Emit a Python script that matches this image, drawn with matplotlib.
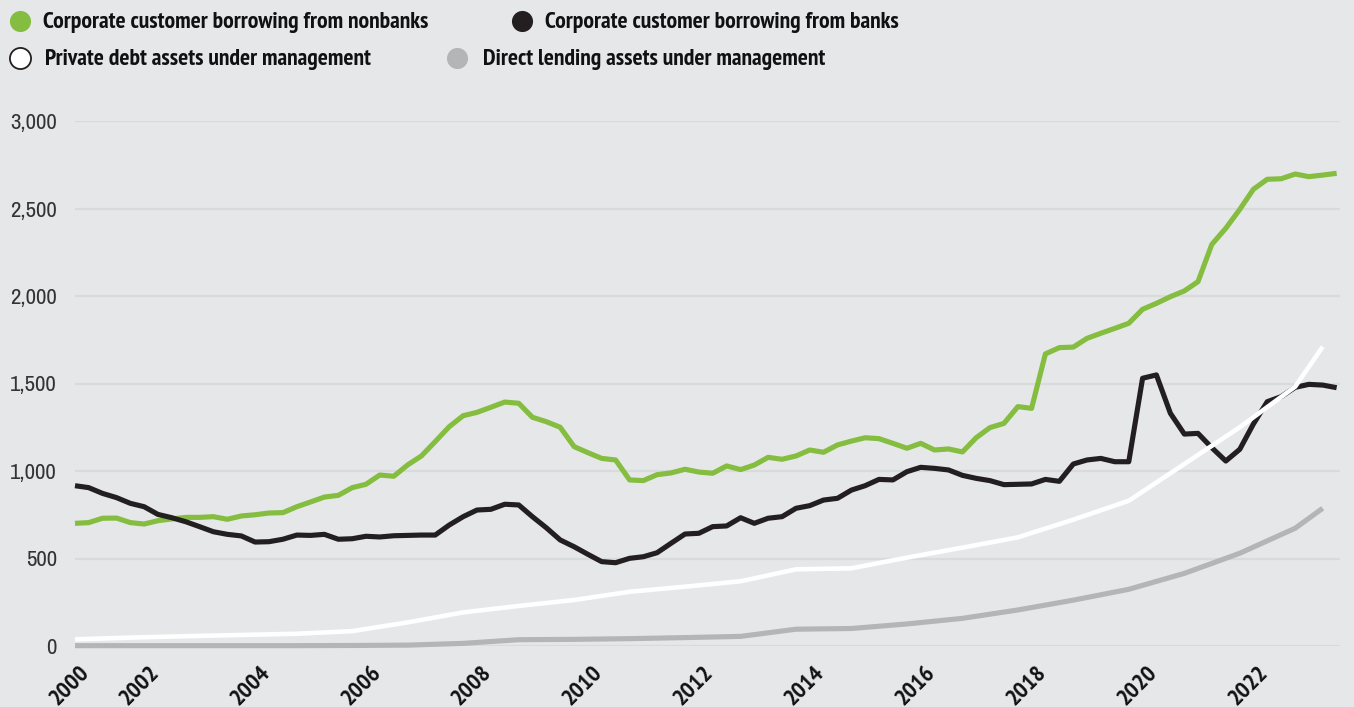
import os
import matplotlib
matplotlib.use("Agg")
import matplotlib.pyplot as plt
from matplotlib.lines import Line2D
from matplotlib.transforms import ScaledTranslation
from matplotlib import font_manager as fm
from matplotlib.font_manager import FontProperties
import pandas as pd

# ---------------- data ----------------
quarter_start = "2000Q4"
quarter_end = "2023Q3"

nonbank_borrowing = [
    701, 705, 730, 731, 705, 697, 716, 726, 735, 735, 739, 724,
    743, 750, 760, 762, 796, 823, 851, 861, 905, 924, 977, 970,
    1035, 1086, 1168, 1253, 1316, 1335, 1364, 1394, 1387, 1307, 1282, 1250,
    1139, 1105, 1072, 1063, 949, 945, 979, 989, 1010, 994, 987, 1029,
    1008, 1034, 1078, 1067, 1086, 1120, 1107, 1149, 1171, 1190, 1185, 1158,
    1130, 1158, 1120, 1126, 1109, 1190, 1248, 1272, 1368, 1358, 1669, 1705,
    1708, 1758, 1787, 1815, 1844, 1924, 1958, 1996, 2029, 2082, 2295, 2387,
    2495, 2610, 2667, 2670, 2697, 2682, 2691, 2701,
]

bank_borrowing = [
    916, 905, 872, 848, 815, 796, 752, 733, 710, 682, 653, 638,
    629, 594, 596, 610, 634, 632, 638, 610, 613, 627, 623, 630,
    632, 634, 634, 691, 739, 777, 781, 810, 806, 739, 676, 606,
    567, 524, 482, 476, 501, 510, 533, 587, 640, 644, 682, 686,
    733, 701, 730, 739, 787, 802, 834, 844, 891, 916, 952, 949,
    996, 1021, 1015, 1006, 975, 958, 945, 922, 924, 926, 952, 941,
    1040, 1063, 1072, 1053, 1053, 1530, 1549, 1330, 1211, 1215, 1133, 1057,
    1124, 1269, 1396, 1425, 1478, 1495, 1491, 1476,
]

aum_dates = [
    "2000-12-31", "2001-12-31", "2002-12-31", "2003-12-31", "2004-12-31",
    "2005-12-31", "2006-12-31", "2007-12-31", "2008-12-31", "2009-12-31",
    "2010-12-31", "2011-12-31", "2012-12-31", "2013-12-31", "2014-12-31",
    "2015-12-31", "2016-12-31", "2017-12-31", "2018-12-31", "2019-12-31",
    "2020-12-31", "2021-12-31", "2022-12-31", "2023-06-30",
]
private_debt_aum = [
    38, 48, 56, 63, 70, 85, 135, 192, 229, 263, 310, 339,
    370, 438, 444, 505, 562, 621, 722, 830, 1040, 1250, 1482, 1710,
]
direct_lending_aum = [
    2, 2, 2, 2, 2, 3, 5, 15, 36, 38, 42, 48,
    55, 96, 100, 126, 158, 206, 262, 324, 415, 530, 673, 787,
]

series_names = [
    "Corporate customer borrowing from nonbanks",
    "Corporate customer borrowing from banks",
    "Private debt assets under management",
    "Direct lending assets under management",
]
year_labels = ["2000", "2002", "2004", "2006", "2008", "2010",
               "2012", "2014", "2016", "2018", "2020", "2022"]
y_ticks = [0, 500, 1000, 1500, 2000, 2500, 3000]

# ---------------- styling ----------------
BG = "#e6e7e9"
GRID = "#d9dadc"
GREEN = "#84bd3f"
BLACK = "#231f20"
WHITE = "#ffffff"
GRAY = "#b4b5b6"


def _weight_num(w):
    if isinstance(w, (int, float)):
        return int(w)
    return {"bold": 700, "normal": 400, "regular": 400, "light": 300,
            "medium": 500, "semibold": 600, "black": 900, "heavy": 900,
            "thin": 100, "extra bold": 800, "demibold": 600}.get(str(w).lower(), 400)


def pick_font(target_weight):
    best, best_score = None, None
    for f in fm.fontManager.ttflist:
        if str(f.style).lower() != "normal":
            continue
        key = (f.name + " " + os.path.basename(f.fname)).lower().replace("-", " ").replace("_", " ")
        stretch = str(f.stretch).lower()
        if "narrow" in key:
            rank = 0
        elif ("semicondensed" in key or "semi condensed" in key or stretch == "semi-condensed"):
            rank = 3
        elif ("extracondensed" in key or "extra condensed" in key or stretch in ("extra-condensed", "ultra-condensed")):
            rank = 2
        elif "condensed" in key or stretch == "condensed":
            rank = 1
        else:
            continue
        if "mono" in key or ("serif" in key and "sans" not in key):
            continue
        score = rank * 1000 + abs(_weight_num(f.weight) - target_weight)
        if best_score is None or score < best_score:
            best, best_score = f, score
    if best is None:
        return FontProperties(family="DejaVu Sans", weight=target_weight)
    return FontProperties(fname=best.fname)


FP_BOLD = pick_font(700)
FP_REG = pick_font(350)


def fp(base, size):
    p = base.copy()
    p.set_size(size)
    return p


W, H = 1354, 707
fig = plt.figure(figsize=(W / 100, H / 100), dpi=100, facecolor=BG)
renderer = fig.canvas.get_renderer()


def fx(px):
    return px / W


def fy(py):
    return 1 - py / H


def fit_size(base, text, target_px, start=16.0):
    t = fig.text(0, 0, text, fontproperties=fp(base, start))
    wpx = t.get_window_extent(renderer).width
    t.remove()
    return start * target_px / max(wpx, 1)


left_px, right_px, top_px, bottom_px = 75, 1340, 121, 646
ax = fig.add_axes([fx(left_px), fy(bottom_px), (right_px - left_px) / W, (bottom_px - top_px) / H])
ax.set_facecolor(BG)

q_dates = pd.period_range(quarter_start, quarter_end, freq="Q").to_timestamp(how="end").normalize()
a_dates = pd.to_datetime(aum_dates)

common = dict(solid_capstyle="butt", solid_joinstyle="round", clip_on=False)
ax.plot(q_dates, nonbank_borrowing, color=GREEN, lw=3.7, zorder=3, **common)
ax.plot(q_dates, bank_borrowing, color=BLACK, lw=3.7, zorder=4, **common)
ax.plot(a_dates, private_debt_aum, color=WHITE, lw=3.3, zorder=5, **common)
ax.plot(a_dates, direct_lending_aum, color=GRAY, lw=3.7, zorder=2, **common)

ax.set_ylim(0, 3000)
ax.set_xlim(pd.Timestamp("2000-12-31"), pd.Timestamp("2023-10-22"))

y_size = min(fit_size(FP_REG, "3,000", 47), 18)
ax.set_yticks(y_ticks)
ax.set_yticklabels([f"{v:,}" for v in y_ticks], fontproperties=fp(FP_REG, y_size), color="#333333")
ax.grid(axis="y", color=GRID, lw=1.6, zorder=0)
ax.grid(axis="x", visible=False)
for s in ax.spines.values():
    s.set_visible(False)
ax.tick_params(axis="both", length=0)
ax.tick_params(axis="y", pad=13)

x_size = min(fit_size(FP_BOLD, "2004", 46), 18)
tick_dates = [pd.Timestamp("2000-12-31")] + [pd.Timestamp(f"{y}-01-01") for y in year_labels[1:]]
ax.set_xticks(tick_dates)
ax.set_xticklabels(year_labels, fontproperties=fp(FP_BOLD, x_size),
                   color="#111111", rotation=45, ha="right", va="top",
                   rotation_mode="anchor")
ax.tick_params(axis="x", pad=11.5)
for i, lab in enumerate(ax.get_xticklabels()):
    dx = 4 if i == 0 else 18
    lab.set_transform(lab.get_transform() + ScaledTranslation(dx / 100, 0, fig.dpi_scale_trans))

# ---------------- legend ----------------
leg_size = min(fit_size(FP_BOLD, series_names[0], 405), 17)
legend_items = [
    (series_names[0], GREEN, GREEN, 19.5, 21, 43),
    (series_names[1], BLACK, BLACK, 522, 21, 545),
    (series_names[2], WHITE, BLACK, 19.5, 57.5, 45),
    (series_names[3], GRAY, GRAY, 457, 57.5, 483),
]
for label, fc, ec, cx, cy, tx in legend_items:
    fig.add_artist(Line2D([fx(cx)], [fy(cy)], transform=fig.transFigure, marker="o",
                          markersize=15.2, markerfacecolor=fc, markeredgecolor=ec,
                          markeredgewidth=1.3 if fc == WHITE else 0, linestyle="none"))
    fig.text(fx(tx), fy(cy + 7.3), label, fontproperties=fp(FP_BOLD, leg_size),
             color="#111111", ha="left", va="baseline")

fig.savefig("out.png", dpi=100, facecolor=BG)
